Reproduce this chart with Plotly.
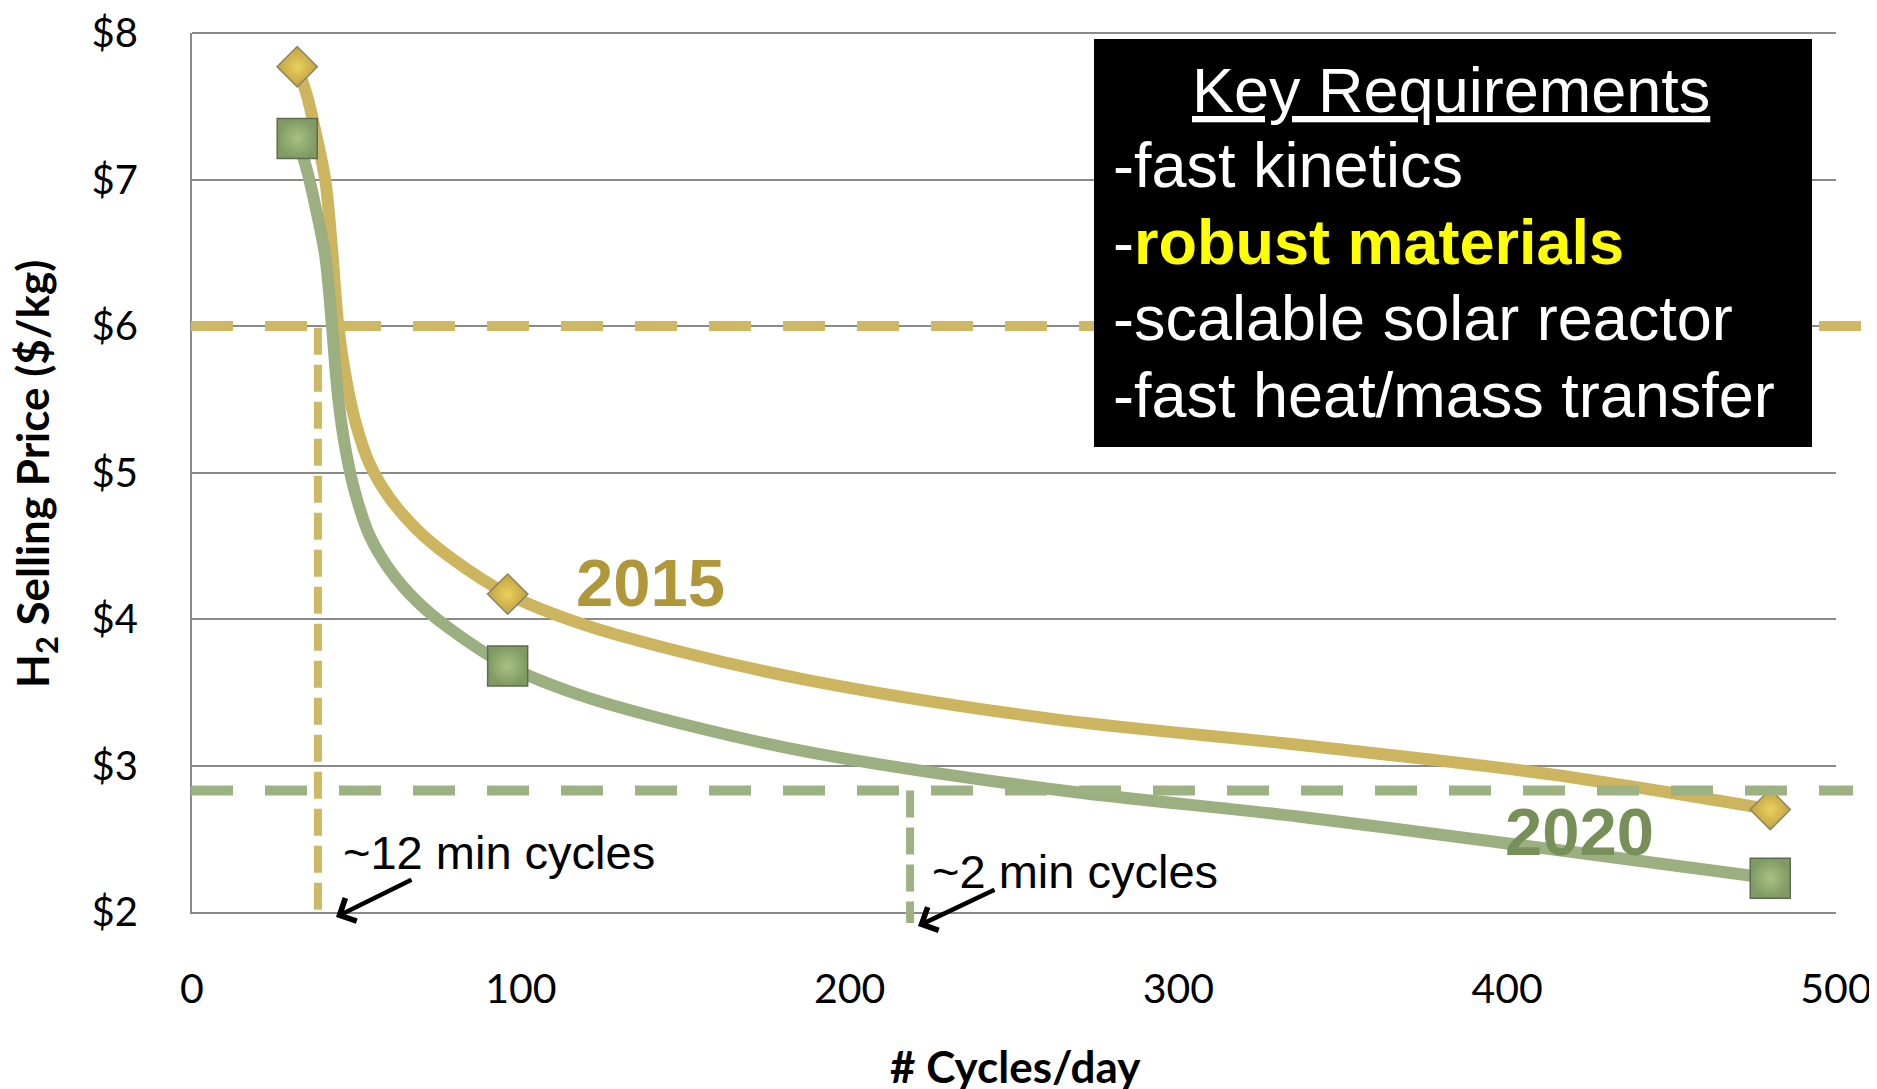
import plotly.graph_objects as go

# values: H2 selling price ($/kg) vs cycles per day
cycles_2015 = [32, 35, 37.5, 40.5, 42.5, 44.5, 47, 50, 54, 60, 68, 78, 96, 118, 148, 188, 261, 337, 413, 480]
price_2015 = [7.77, 7.57, 7.33, 7.0, 6.55, 6.0, 5.62, 5.32, 5.06, 4.83, 4.62, 4.43, 4.17, 3.97, 3.78, 3.58, 3.32, 3.14, 2.94, 2.70]

cycles_2020 = [32, 35, 37.5, 40.5, 42.5, 44.5, 47, 50, 54, 60, 68, 78, 96, 118, 148, 188, 261, 337, 413, 480]
price_2020 = [7.28, 7.06, 6.82, 6.48, 6.02, 5.5, 5.12, 4.83, 4.57, 4.34, 4.13, 3.94, 3.68, 3.48, 3.29, 3.09, 2.84, 2.65, 2.43, 2.23]

# the three marked points of each curve
marker_cycles = [32, 96, 480]
marker_price_2015 = [7.77, 4.17, 2.70]
marker_price_2020 = [7.28, 3.68, 2.23]

# target lines
target_price_2015 = 6.0
target_cycles_2015 = 38.3
target_price_2020 = 2.83
target_cycles_2020 = 218.4

x_ticks = [0, 100, 200, 300, 400, 500]
y_ticks = [2, 3, 4, 5, 6, 7, 8]
y_ticktext = ["$2", "$3", "$4", "$5", "$6", "$7", "$8"]

requirements = [
    "-fast kinetics",
    "-<b><span style='color:#FFFF00'>robust materials</span></b>",
    "-scalable solar reactor",
    "-fast heat/mass transfer",
]

X_RANGE = [0, 500]
Y_RANGE = [2, 8]

GOLD = "#CDB45E"
GREEN = "#9BAF80"
GOLD_DASH = "#CFB864"
GREEN_DASH = "#9DB283"
GRID = "#8A8A8A"

# the page body has an 8px margin, so the figure is sized to end at the window edge
PAGE_OFF = 8
W, H = 1877 - PAGE_OFF, 1089 - PAGE_OFF
PLOT_L, PLOT_R, PLOT_T, PLOT_B = 192, 1836, 33, 912  # page pixels
L = PLOT_L - PAGE_OFF
T = PLOT_T - PAGE_OFF
R = PAGE_OFF + W - PLOT_R
B = PAGE_OFF + H - PLOT_B
PW, PH = PLOT_R - PLOT_L, PLOT_B - PLOT_T


def paper_x(px):
    return (px - PLOT_L) / PW


def paper_y(py):
    return (PLOT_B - py) / PH


def data_x(v):
    return (v - X_RANGE[0]) / (X_RANGE[1] - X_RANGE[0])


def data_y(v):
    return (v - Y_RANGE[0]) / (Y_RANGE[1] - Y_RANGE[0])


fig = go.Figure()

fig.add_trace(
    go.Scatter(
        x=cycles_2015,
        y=price_2015,
        mode="lines",
        line=dict(color=GOLD, width=12, shape="spline", smoothing=1),
        hoverinfo="skip",
    )
)
fig.add_trace(
    go.Scatter(
        x=cycles_2020,
        y=price_2020,
        mode="lines",
        line=dict(color=GREEN, width=12, shape="spline", smoothing=1),
        hoverinfo="skip",
    )
)
fig.add_trace(
    go.Scatter(
        x=marker_cycles,
        y=marker_price_2015,
        mode="markers",
        marker=dict(
            symbol="diamond",
            size=31,
            color="#BFA23E",
            gradient=dict(type="radial", color="#EACF60"),
            line=dict(color="#8C8466", width=1.5),
        ),
        cliponaxis=False,
    )
)
fig.add_trace(
    go.Scatter(
        x=marker_cycles,
        y=marker_price_2020,
        mode="markers",
        marker=dict(
            symbol="square",
            size=40,
            color="#7F9A62",
            gradient=dict(type="radial", color="#A8C283"),
            line=dict(color="#5F6B50", width=1.5),
        ),
        cliponaxis=False,
    )
)

shapes = [
    # top gridline ($8), which plotly skips at the range edge
    dict(
        type="line", xref="paper", yref="paper", layer="below",
        x0=0, x1=1, y0=1, y1=1,
        line=dict(color=GRID, width=2),
    ),
    # $6 target (2015)
    dict(
        type="line", xref="paper", yref="paper",
        x0=paper_x(191), x1=1.03,
        y0=data_y(target_price_2015), y1=data_y(target_price_2015),
        line=dict(color=GOLD_DASH, width=10, dash="42px,32px"),
    ),
    dict(
        type="line", xref="paper", yref="paper",
        x0=data_x(target_cycles_2015), x1=data_x(target_cycles_2015),
        y0=data_y(target_price_2015) - 0.002, y1=paper_y(914),
        line=dict(color=GOLD_DASH, width=8, dash="27px,10px"),
    ),
    # 2020 target
    dict(
        type="line", xref="paper", yref="paper",
        x0=paper_x(191), x1=paper_x(1853),
        y0=data_y(target_price_2020), y1=data_y(target_price_2020),
        line=dict(color=GREEN_DASH, width=10, dash="42px,32px"),
    ),
    dict(
        type="line", xref="paper", yref="paper",
        x0=data_x(target_cycles_2020), x1=data_x(target_cycles_2020),
        y0=data_y(target_price_2020), y1=paper_y(923),
        line=dict(color=GREEN_DASH, width=8, dash="27px,10px"),
    ),
    # Key Requirements box
    dict(
        type="rect", xref="paper", yref="paper",
        x0=paper_x(1094), x1=paper_x(1812),
        y0=paper_y(447), y1=paper_y(39),
        fillcolor="black", line=dict(width=0),
    ),
]

box_font = dict(family="Liberation Sans, Arial", size=63, color="white")
annotations = [
    dict(
        text="<u>Key Requirements</u>",
        x=paper_x(1451), y=paper_y(90),
        xanchor="center", yanchor="middle",
        font=box_font,
    )
]
for i, line in enumerate(requirements):
    annotations.append(
        dict(
            text=line,
            x=paper_x(1111), y=paper_y(165 + 76.6 * i),
            xanchor="left", yanchor="middle",
            font=box_font,
        )
    )

annotations += [
    dict(
        text="<b>2015</b>", x=paper_x(650), y=paper_y(582),
        xanchor="center", yanchor="middle",
        font=dict(family="Liberation Sans, Arial", size=67, color="#B0973A"),
    ),
    dict(
        text="<b>2020</b>", x=paper_x(1579), y=paper_y(831),
        xanchor="center", yanchor="middle",
        font=dict(family="Liberation Sans, Arial", size=67, color="#778F58"),
    ),
    dict(
        text="~12 min cycles", x=paper_x(341), y=paper_y(852),
        xanchor="left", yanchor="middle",
        font=dict(family="Liberation Sans, Arial", size=47, color="black"),
    ),
    dict(
        text="~2 min cycles", x=paper_x(930), y=paper_y(871),
        xanchor="left", yanchor="middle",
        font=dict(family="Liberation Sans, Arial", size=47, color="black"),
    ),
    # arrows
    dict(
        text="", x=paper_x(336), y=paper_y(917),
        ax=77, ay=-38, showarrow=True,
        arrowhead=4, arrowsize=1.1, arrowwidth=4.5, arrowcolor="black",
    ),
    dict(
        text="", x=paper_x(918), y=paper_y(926),
        ax=78, ay=-37, showarrow=True,
        arrowhead=4, arrowsize=1.1, arrowwidth=4.5, arrowcolor="black",
    ),
    # axis titles
    dict(
        text="# Cycles/day", x=paper_x(1015), y=paper_y(1066),
        xanchor="center", yanchor="middle",
        font=dict(family="Lato", size=44, color="black", weight="bold"),
    ),
    dict(
        text="H<sub>2</sub> Selling Price ($/kg)", x=paper_x(35), y=paper_y(474),
        xanchor="center", yanchor="middle", textangle=-90,
        font=dict(family="Lato", size=44, color="black", weight="bold"),
    ),
]
for a in annotations:
    a.setdefault("xref", "paper")
    a.setdefault("yref", "paper")
    a.setdefault("showarrow", False)

fig.update_layout(
    width=W,
    height=H,
    margin=dict(l=L, r=R, t=T, b=B, pad=0, autoexpand=False),
    paper_bgcolor="white",
    plot_bgcolor="white",
    showlegend=False,
    shapes=shapes,
    annotations=annotations,
    xaxis=dict(
        range=X_RANGE,
        tickvals=x_ticks,
        automargin=False,
        showgrid=False,
        zeroline=False,
        showline=True,
        linecolor=GRID,
        linewidth=2,
        ticks="",
        ticklabelstandoff=40,
        tickfont=dict(family="Lato", size=41, color="black"),
    ),
    yaxis=dict(
        range=Y_RANGE,
        tickvals=y_ticks,
        ticktext=y_ticktext,
        automargin=False,
        showgrid=True,
        gridcolor=GRID,
        gridwidth=2,
        zeroline=False,
        showline=True,
        linecolor=GRID,
        linewidth=2,
        ticks="",
        ticklabelstandoff=44,
        tickfont=dict(family="Lato", size=40, color="black"),
    ),
)

fig.write_html("out.html")
